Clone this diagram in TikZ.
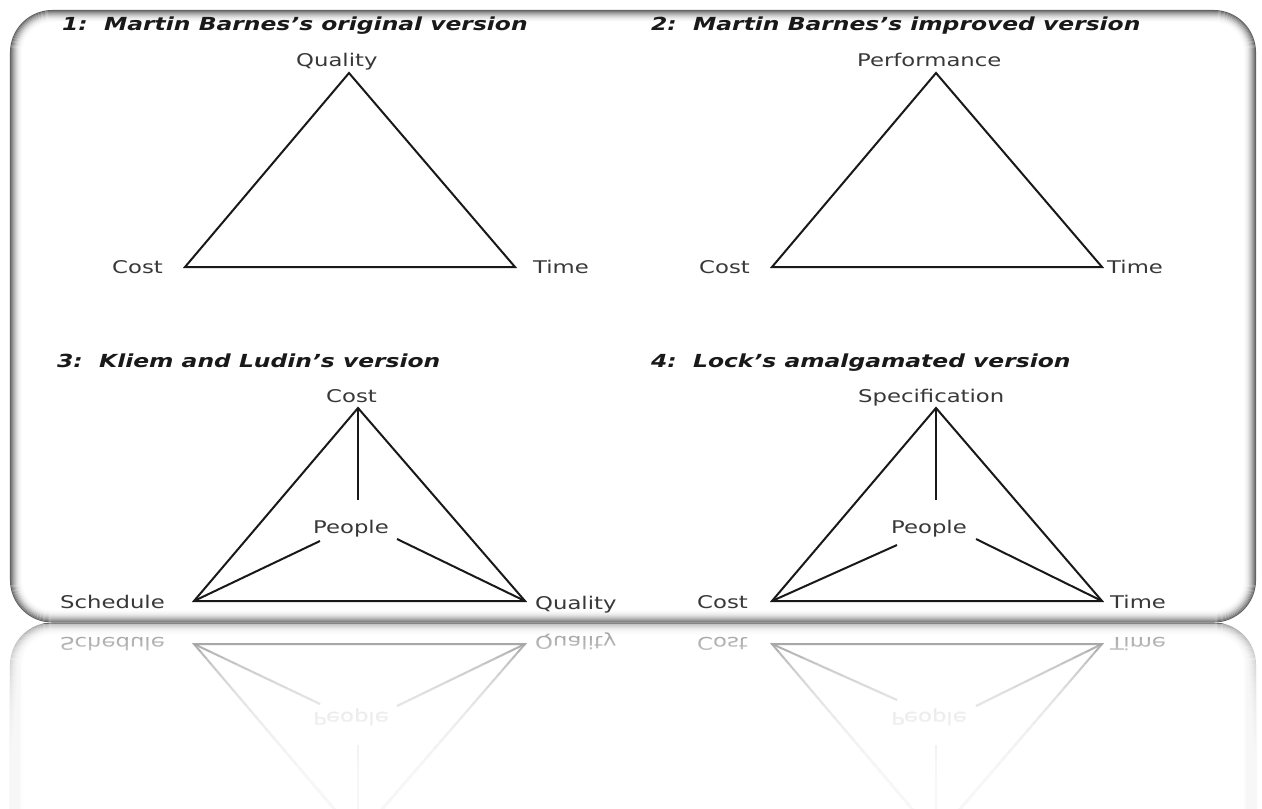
\documentclass[tikz,border=0pt]{standalone}
\usepackage{fontspec}
\setmainfont{DejaVu Sans}[FakeStretch=1.3]
\newfontfamily\lblfam{DejaVu Sans}[FakeStretch=1.3]
\tikzset{
  lbl/.style={font={\lblfam\fontsize{17.5}{20}\selectfont}, text=black!78, inner sep=0pt, anchor=base west},
  ttl/.style={font={\lblfam\fontsize{18}{20}\selectfont\bfseries\itshape}, text=black!90, inner sep=0pt, anchor=base west},
  edge/.style={draw=black!90, line width=2pt, line join=miter},
}
\newcommand\drawframe{%
  \foreach \i/\c in {0/62,1/52,2/44,3/36,4/29,5/23,6/17,7/12,8/8,9/5,10/3,11/1} {
    \pgfmathsetmacro\rr{42-\i}
    \draw[black!\c, line width=1.1pt, rounded corners=\rr pt] (10.5+\i,10.5+\i) rectangle (1255.5-\i,622-\i);
  }
}
\newcommand\drawlower{%
  % panel 3
  \coordinate (c3a) at (358,408);
  \coordinate (c3l) at (194,601);
  \coordinate (c3r) at (525,601);
  \coordinate (c3v) at (358,500);
  \coordinate (c3pl) at (320,541);
  \coordinate (c3pr) at (397,539);
  \node[lbl] (l3people) at (313,533) {People};
  \node[lbl] (l3sched) at (60,608) {Schedule};
  \node[lbl] (l3qual) at (535,609) {Quality};
  \draw[edge] (c3a) -- (c3l) -- (c3r) -- cycle;
  \draw[edge] (c3a) -- (c3v);
  \draw[edge] (c3l) -- (c3pl);
  \draw[edge] (c3r) -- (c3pr);
  % panel 4
  \coordinate (c4a) at (936,408);
  \coordinate (c4l) at (772,601);
  \coordinate (c4r) at (1102,601);
  \coordinate (c4v) at (936,500);
  \coordinate (c4pl) at (897,545);
  \coordinate (c4pr) at (976,539);
  \node[lbl] (l4people) at (891,533) {People};
  \node[lbl] (l4cost) at (697,608) {Cost};
  \node[lbl] (l4time) at (1110,608) {Time};
  \draw[edge] (c4a) -- (c4l) -- (c4r) -- cycle;
  \draw[edge] (c4a) -- (c4v);
  \draw[edge] (c4l) -- (c4pl);
  \draw[edge] (c4r) -- (c4pr);
}
\begin{document}
\begin{tikzpicture}[x=1pt,y=-1pt]
  \useasboundingbox (0,0) rectangle (1262,809);
  \fill[white] (0,0) rectangle (1262,809);
  \drawframe
  % panel 1
  \node[ttl] (t1) at (62,30) {1:\ \ Martin Barnes’s original version};
  \coordinate (c1a) at (349,73);
  \coordinate (c1l) at (185,267);
  \coordinate (c1r) at (515,267);
  \node[lbl] (l1qual) at (296,66) {Quality};
  \node[lbl] (l1cost) at (112,273) {Cost};
  \node[lbl] (l1time) at (533,273) {Time};
  \draw[edge] (c1a) -- (c1l) -- (c1r) -- cycle;
  % panel 2
  \node[ttl] (t2) at (651,30) {2:\ \ Martin Barnes’s improved version};
  \coordinate (c2a) at (936,73);
  \coordinate (c2l) at (772,267);
  \coordinate (c2r) at (1102,267);
  \node[lbl] (l2perf) at (857,66) {Performance};
  \node[lbl] (l2cost) at (699,273) {Cost};
  \node[lbl] (l2time) at (1107,273) {Time};
  \draw[edge] (c2a) -- (c2l) -- (c2r) -- cycle;
  % panels 3 and 4
  \node[ttl] (t3) at (57,367) {3:\ \ Kliem and Ludin’s version};
  \node[ttl] (t4) at (651,367) {4:\ \ Lock’s amalgamated version};
  \node[lbl] (l3cost) at (326,402) {Cost};
  \node[lbl] (l4spec) at (858,402) {Specification};
  \drawlower
  % reflection
  \begin{scope}
    \clip (0,623.5) rectangle (1262,809);
    \begin{scope}[yshift=-1245pt, yscale=-1, transform shape, name prefix=r-]
      \drawframe
      \drawlower
    \end{scope}
    \fill[white, fill opacity=0.45] (0,623.5) rectangle (1262,809);
    \foreach \k in {0,...,29} {
      \fill[white, fill opacity=0.12] (0,{628+\k*6}) rectangle (1262,809);
    }
  \end{scope}
\end{tikzpicture}
\end{document}
